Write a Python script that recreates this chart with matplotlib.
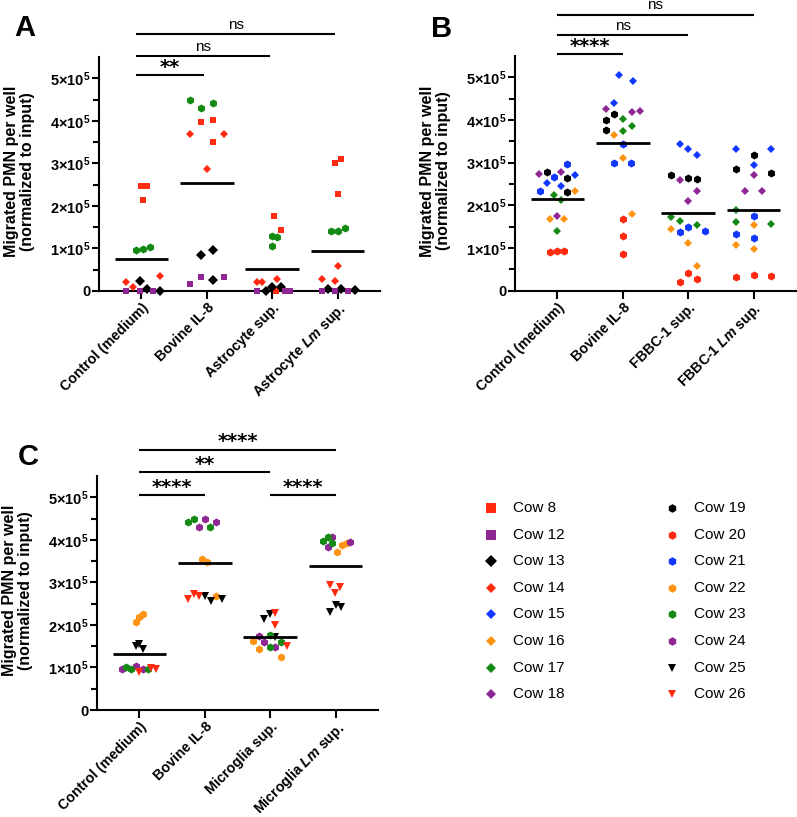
import matplotlib
matplotlib.use("Agg")
import matplotlib.pyplot as plt
import numpy as np

plt.rcParams['font.family'] = ['Liberation Sans', 'DejaVu Sans']
plt.rcParams['mathtext.fontset'] = 'custom'
plt.rcParams['mathtext.rm'] = 'Liberation Sans:bold'
plt.rcParams['mathtext.bf'] = 'Liberation Sans:bold'
plt.rcParams['mathtext.it'] = 'Liberation Sans:italic:bold'

# ---------------- data (values in units of 1e5 migrated PMN) ----------------
groups_A = ["Control (medium)", "Bovine IL-8", "Astrocyte sup.", "Astrocyte $\\mathit{Lm}$ sup."]
groups_B = ["Control (medium)", "Bovine IL-8", "FBBC-1 sup.", "FBBC-1 $\\mathit{Lm}$ sup."]
groups_C = ["Control (medium)", "Bovine IL-8", "Microglia sup.", "Microglia $\\mathit{Lm}$ sup."]

# Panel A: per cow, per group, three replicate wells
A_cow8 = [[2.46, 2.46, 2.15], [3.97, 4.03, 3.50], [1.77, 1.43, 0.00], [3.01, 3.10, 2.28]]
A_cow23 = [[0.96, 0.98, 1.03], [4.49, 4.30, 4.42], [1.29, 1.26, 1.05], [1.40, 1.42, 1.47]]
A_cow14 = [[0.22, 0.09, 0.35], [3.69, 3.69, 2.87], [0.22, 0.22, 0.29], [0.29, 0.23, 0.58]]
A_cow13 = [[0.23, 0.05, 0.01], [0.84, 0.96, 0.26], [0.01, 0.09, 0.09], [0.04, 0.04, 0.02]]
A_cow12 = [[0.00, 0.00, 0.00], [0.17, 0.33, 0.33], [0.00, 0.00, 0.00], [0.00, 0.00, 0.00]]
A_means = [0.75, 2.54, 0.52, 0.93]

# Panel B
B_cow19 = [[2.78, 2.65, 2.32], [4.13, 3.99, 3.76], [2.71, 2.65, 2.62], [2.85, 3.17, 2.75]]
B_cow18 = [[2.74, 2.78, 1.75], [4.26, 4.18, 4.21], [2.59, 2.34, 2.11], [2.71, 2.34, 2.34]]
B_cow21 = [[2.67, 2.33, 2.97], [3.43, 2.99, 2.99], [1.37, 1.50, 1.41], [1.76, 1.32, 1.24]]
B_cow15 = [[2.53, 2.46, 2.72], [5.05, 4.91, 4.39], [3.43, 3.33, 3.17], [3.33, 3.31, 2.94]]
B_cow17 = [[2.24, 2.12, 1.39], [4.03, 3.74, 3.85], [1.73, 1.64, 1.54], [1.89, 1.61, 1.57]]
B_cow16 = [[2.33, 1.67, 1.67], [3.65, 3.10, 1.79], [1.44, 1.11, 0.58], [1.53, 1.06, 0.98]]
B_cow20 = [[0.90, 0.94, 0.92], [1.67, 1.29, 0.85], [0.21, 0.41, 0.27], [0.33, 0.37, 0.34]]
B_means = [2.15, 3.45, 1.81, 1.90]

# Panel C
C_cow22 = [[2.08, 2.18, 2.26], [3.55, 3.49, 2.69], [1.63, 1.43, 1.25], [3.71, 3.88, 3.92]]
C_cow25 = [[1.50, 1.55, 1.43], [2.69, 2.57, 2.60], [2.14, 2.26, 1.72], [2.31, 2.47, 2.41]]
C_cow24 = [[0.96, 1.04, 0.96], [4.49, 4.29, 4.42], [1.74, 1.61, 1.47], [4.06, 3.84, 3.96]]
C_cow23 = [[1.02, 0.96, 0.96], [4.43, 4.50, 4.29], [1.76, 1.61, 1.47], [3.97, 4.06, 3.92]]
C_cow26 = [[0.89, 0.98, 0.96], [2.60, 2.72, 2.68], [2.29, 2.00, 1.50], [2.94, 2.74, 2.88]]
C_means = [1.31, 3.46, 1.72, 3.39]

# horizontal scatter offsets of each well (category units)
A_dx = {
    "Cow 8": [[-0.01, 0.08, 0.03], [-0.09, 0.09, 0.09], [0.03, 0.14, 0.06], [-0.04, 0.06, 0.01]],
    "Cow 23": [[-0.08, 0.03, 0.13], [-0.26, -0.09, 0.09], [-0.01, 0.07, -0.01], [-0.10, 0.01, 0.12]],
    "Cow 14": [[-0.23, -0.13, 0.29], [-0.26, 0.27, 0.00], [-0.23, -0.15, 0.07], [-0.24, -0.04, 0.01]],
    "Cow 13": [[-0.03, 0.08, 0.29], [-0.09, 0.09, 0.09], [-0.10, -0.01, 0.14], [-0.14, 0.06, 0.27]],
    "Cow 12": [[-0.23, -0.03, 0.18], [-0.26, -0.09, 0.27], [-0.23, 0.20, 0.28], [-0.24, -0.04, 0.16]],
}
B_dx = {
    "Cow 19": [[-0.16, 0.15, 0.15], [-0.13, -0.26, -0.26], [-0.27, 0.00, 0.13], [-0.27, 0.00, 0.27]],
    "Cow 18": [[-0.28, 0.05, 0.00], [-0.26, 0.14, 0.27], [-0.13, 0.13, 0.00], [0.00, -0.13, 0.13]],
    "Cow 21": [[-0.06, -0.26, 0.15], [0.00, -0.13, 0.13], [-0.13, 0.00, 0.26], [0.00, -0.27, 0.00]],
    "Cow 15": [[-0.16, 0.05, 0.27], [-0.06, 0.15, -0.13], [-0.13, 0.00, 0.13], [-0.27, 0.27, 0.00]],
    "Cow 17": [[-0.06, 0.05, 0.00], [0.00, 0.00, 0.14], [-0.27, -0.13, 0.13], [-0.27, -0.27, 0.27]],
    "Cow 16": [[0.27, -0.11, 0.10], [-0.13, 0.00, 0.14], [-0.27, 0.00, 0.13], [0.00, -0.27, 0.00]],
    "Cow 20": [[-0.11, 0.00, 0.10], [0.00, 0.00, 0.00], [-0.13, 0.00, 0.13], [-0.27, 0.00, 0.27]],
}
C_dx = {
    "Cow 22": [[-0.06, 0.00, 0.06], [-0.05, 0.04, 0.17], [-0.26, -0.17, 0.17], [0.03, 0.10, 0.17]],
    "Cow 25": [[-0.06, 0.00, 0.06], [0.005, 0.09, 0.26], [-0.10, -0.01, 0.08], [-0.08, 0.005, 0.08]],
    "Cow 24": [[-0.27, -0.06, 0.06], [0.00, -0.09, 0.17], [-0.17, -0.10, 0.08], [-0.05, -0.11, 0.22]],
    "Cow 23": [[-0.20, -0.13, 0.13], [-0.26, -0.17, 0.08], [-0.01, 0.17, -0.01], [-0.19, -0.11, -0.05]],
    "Cow 26": [[0.00, 0.18, 0.26], [-0.26, -0.17, -0.09], [0.08, 0.08, 0.26], [-0.08, -0.01, 0.07]],
}

panel_A = {"Cow 8": A_cow8, "Cow 23": A_cow23, "Cow 14": A_cow14, "Cow 13": A_cow13, "Cow 12": A_cow12}
panel_B = {"Cow 19": B_cow19, "Cow 18": B_cow18, "Cow 21": B_cow21, "Cow 15": B_cow15,
           "Cow 17": B_cow17, "Cow 16": B_cow16, "Cow 20": B_cow20}
panel_C = {"Cow 22": C_cow22, "Cow 25": C_cow25, "Cow 24": C_cow24, "Cow 23": C_cow23, "Cow 26": C_cow26}

# significance comparisons: (group i, group j, label)
sig_A = [(0, 1, "**"), (0, 2, "ns"), (0, 3, "ns")]
sig_B = [(0, 1, "****"), (0, 2, "ns"), (0, 3, "ns")]
sig_C = [(0, 1, "****"), (2, 3, "****"), (0, 2, "**"), (0, 3, "****")]

legend_cows = ["Cow 8", "Cow 12", "Cow 13", "Cow 14", "Cow 15", "Cow 16", "Cow 17", "Cow 18",
               "Cow 19", "Cow 20", "Cow 21", "Cow 22", "Cow 23", "Cow 24", "Cow 25", "Cow 26"]

# ---------------- styles ----------------
RED = '#FF2A10'
PURPLE = '#8E2794'
BLACK = '#000000'
BLUE = '#1238FF'
ORANGE = '#FF9414'
GREEN = '#148A14'

style = {
    "Cow 8": ('s', RED), "Cow 12": ('s', PURPLE), "Cow 13": ('D', BLACK), "Cow 14": ('D', RED),
    "Cow 15": ('D', BLUE), "Cow 16": ('D', ORANGE), "Cow 17": ('D', GREEN), "Cow 18": ('D', PURPLE),
    "Cow 19": ('h', BLACK), "Cow 20": ('h', RED), "Cow 21": ('h', BLUE), "Cow 22": ('h', ORANGE),
    "Cow 23": ('h', GREEN), "Cow 24": ('h', PURPLE), "Cow 25": ('v', BLACK), "Cow 26": ('v', RED),
}
msize = {'s': 5.0, 'D': 4.3, 'h': 5.8, 'v': 5.6}
leg_size = {'s': 7.5, 'D': 4.8, 'h': 6.2, 'v': 6.0}

W, H = 797, 817
fig = plt.figure(figsize=(W / 100, H / 100), dpi=100)


def px_rect(l, t, r, b):
    return [l / W, 1 - b / H, (r - l) / W, (b - t) / H]


def make_panel(rect, groups, data, dx, means, sigs, sig_levels, sig_text_pad, bar_start):
    ax = fig.add_axes(rect)
    x = np.arange(len(groups))
    for cow, vals in data.items():
        m, c = style[cow]
        vals = np.asarray(vals)
        offs = np.asarray(dx[cow])
        xs = (x[:, None] + offs).ravel()
        ax.plot(xs, vals.ravel() * 1e5, linestyle='none', marker=m, color=c,
                markersize=msize[m] * (1.15 if cow == "Cow 13" else 1.0),
                markeredgewidth=0, clip_on=False, zorder=3)
    for i, mv in enumerate(means):
        ax.plot([x[i] - 0.41, x[i] + 0.41], [mv * 1e5, mv * 1e5], color='black', lw=2.0,
                solid_capstyle='butt', zorder=4)
    ax.set_xlim(-0.65, 3.65)
    ax.set_ylim(0, 5.5e5)
    ax.set_yticks(np.arange(0, 6) * 1e5)
    ax.set_yticklabels(["0"] + [f"${k}{{\\times}}10^{{5}}$" for k in range(1, 6)])
    ax.set_yticks(np.arange(0.5, 5.5, 1) * 1e5, minor=True)
    ax.set_xticks(x)
    ax.set_xticklabels(groups, rotation=45, ha='right', va='top', rotation_mode='anchor',
                       fontweight='bold', fontsize=10.2)
    for sp in ['top', 'right']:
        ax.spines[sp].set_visible(False)
    for sp in ['left', 'bottom']:
        ax.spines[sp].set_linewidth(1.5)
    ax.tick_params(axis='y', which='major', length=5, width=1.5, pad=1, labelsize=10.5)
    ax.tick_params(axis='y', which='minor', length=4, width=1.5)
    ax.tick_params(axis='x', which='major', length=6, width=1.5, pad=1)
    for lab in ax.get_yticklabels():
        lab.set_fontweight('bold')
    ax.set_ylabel("Migrated PMN per well\n(normalized to input)", fontweight='bold',
                  fontsize=11.5, linespacing=1.1)
    ax.yaxis.set_label_coords(-0.226, 0.51)
    for (i, j, lab), yl in zip(sigs, sig_levels):
        ax.plot([i + bar_start, j + bar_start * 0.5], [yl * 1e5, yl * 1e5], color='black', lw=1.5,
                clip_on=False, solid_capstyle='butt')
        xm = (i + j + bar_start * 1.5) / 2
        if lab == "ns":
            ax.text(xm, (yl + sig_text_pad[0]) * 1e5, lab, ha='center', va='bottom',
                    fontsize=11, clip_on=False)
        else:
            ax.text(xm, (yl + sig_text_pad[1]) * 1e5, lab, ha='center', va='center',
                    fontsize=14, fontweight='bold', family='DejaVu Sans', clip_on=False)
    return ax


axA = make_panel(px_rect(99, 57, 380, 291), groups_A, panel_A, A_dx, A_means, sig_A,
                 [5.08, 5.53, 6.03], (0.05, 0.18), -0.08)
axB = make_panel(px_rect(515, 56, 796, 290.7), groups_B, panel_B, B_dx, B_means, sig_B,
                 [5.54, 6.00, 6.47], (0.05, 0.18), 0.0)
axC = make_panel(px_rect(97, 476, 378, 710), groups_C, panel_C, C_dx, C_means, sig_C,
                 [5.06, 5.06, 5.59, 6.12], (0.05, 0.18), 0.0)

fig.text(25 / W, 1 - 28 / H, "A", fontsize=21, fontweight='bold', ha='center', va='center')
fig.text(442 / W, 1 - 29 / H, "B", fontsize=21, fontweight='bold', ha='center', va='center')
fig.text(28 / W, 1 - 457 / H, "C", fontsize=21, fontweight='bold', ha='center', va='center')

# legend
axL = fig.add_axes(px_rect(470, 492, 790, 704.8))
axL.set_xlim(0, 2)
axL.set_ylim(8, 0)
axL.axis('off')
for k, cow in enumerate(legend_cows):
    col, row = divmod(k, 8)
    m, c = style[cow]
    xm = 0.13 + col * 1.13
    yr = 0.6 + row
    sz = leg_size[m] * (1.25 if cow == "Cow 13" else 1.0)
    axL.plot([xm], [yr], linestyle='none', marker=m, color=c, markersize=sz, markeredgewidth=0)
    axL.text(xm + 0.14, yr, cow, fontsize=11, va='center', ha='left')

fig.savefig("out.png", dpi=100)
